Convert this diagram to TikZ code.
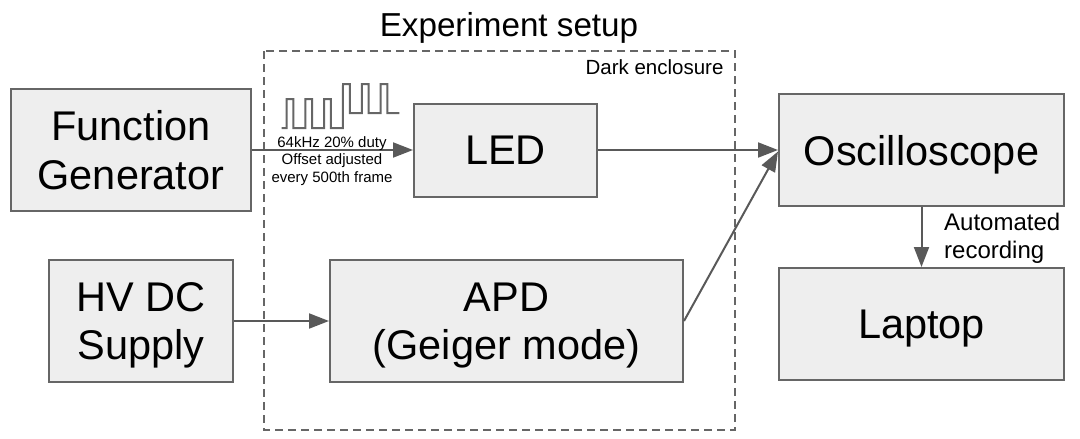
\documentclass[tikz,border=0pt]{standalone}
\usepackage{fontspec}
\setmainfont{Liberation Sans}
\usepackage{xcolor}
\usetikzlibrary{arrows.meta}

\definecolor{boxfill}{HTML}{EEEEEE}
\definecolor{boxline}{HTML}{666666}
\definecolor{arrowgray}{HTML}{595959}

\begin{document}
\begin{tikzpicture}[
  x=1pt, y=-1pt,
  block/.style={rectangle, draw=boxline, fill=boxfill, line width=2pt, inner sep=0pt, align=center,
    text depth=0pt, font=\fontsize{41.5}{48.5}\selectfont},
  arrow/.style={-{Triangle[length=20pt,width=15pt]}, draw=arrowgray, line width=2pt},
  wave/.style={draw=boxline, line width=2pt}
]
\useasboundingbox (0,0) rectangle (1080,439);

% enclosure
\draw[boxline, line width=2pt, dash pattern=on 8pt off 5pt] (264,51) rectangle (735,430);
\node[font=\fontsize{33.2}{40}\selectfont, anchor=base] (title) at (509,36) {Experiment setup};
\node[font=\fontsize{20.5}{24}\selectfont, anchor=base east] (dark) at (727,74) {Dark enclosure};

\node[block, minimum width=240pt, minimum height=122pt] (fg) at (131,150) {Function\\Generator};
\node[block, minimum width=184pt, minimum height=122pt] (hv) at (141,321) {HV DC\\Supply};
\node[block, minimum width=183pt, minimum height=93pt] (led) at (505.5,150) {LED};
\node[block, minimum width=353pt, minimum height=122pt] (apd) at (506.5,321) {APD\\(Geiger mode)};
\node[block, minimum width=285pt, minimum height=112pt] (osc) at (921.5,150) {Oscilloscope};
\node[block, minimum width=285pt, minimum height=112pt] (laptop) at (921.5,324) {Laptop};

\draw[arrow] (fg.east |- led.west) -- (led.west);
\draw[arrow] (hv.east) -- (apd.west);
\draw[arrow] (led.east) -- (osc.west);
\draw[arrow] (apd.east) -- ([yshift=-1.5pt]osc.west);
\draw[arrow] (osc.south) -- (laptop.north);

% pulse train
\draw[wave] (281.5,128) -- (286.5,128)
  \foreach \x in {286.5,305.3,324.1} { -- (\x,99) -- ({\x+6.8},99) -- ({\x+6.8},128) -- ({\x+18.8},128) }
  \foreach \x in {343,361.8,380.6} { -- (\x,84) -- ({\x+6.8},84) -- ({\x+6.8},113) -- ({\x+18.8},113) };

\node[font=\fontsize{15}{17.8}\selectfont, align=center, inner sep=0pt] (pulselbl) at (332,161)
  {64kHz 20\% duty\\Offset adjusted\\every 500th frame};
\node[font=\fontsize{24}{28}\selectfont, align=left, anchor=west, inner sep=0pt] (reclbl) at (944,238)
  {Automated\\recording};

\end{tikzpicture}
\end{document}
